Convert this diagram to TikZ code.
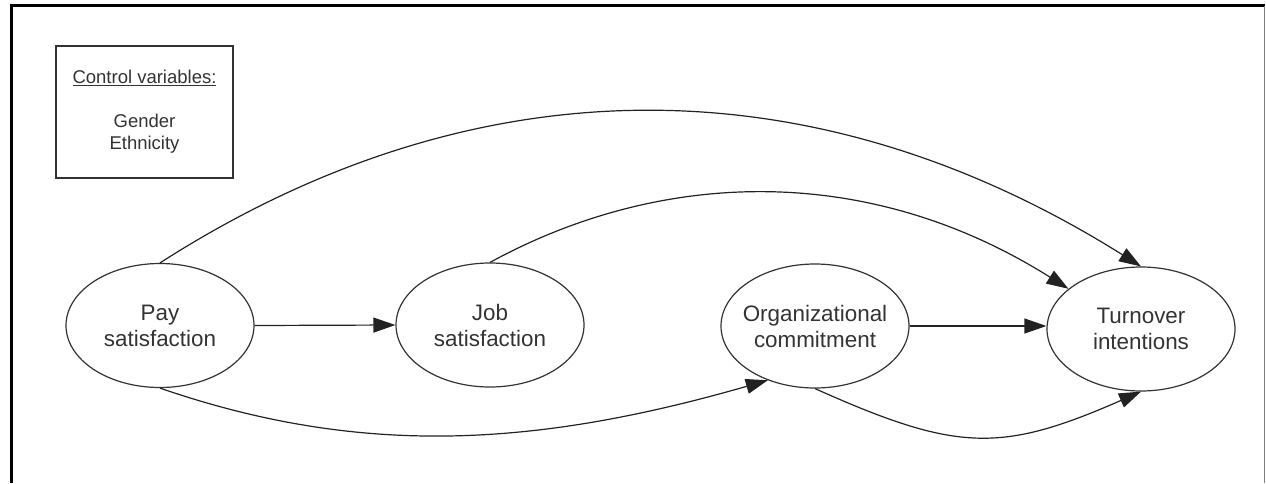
\documentclass[tikz,border=0pt]{standalone}
\usepackage{fontspec}
\setmainfont{Liberation Sans}
\usetikzlibrary{shapes.geometric,arrows.meta}
\definecolor{ink}{HTML}{333333}
\definecolor{edge}{HTML}{222222}
\begin{document}
\begin{tikzpicture}[x=1pt,y=-1pt,
  var/.style={ellipse, draw=ink, line width=1.2pt, minimum width=188pt, minimum height=124pt, inner sep=0pt},
  vartxt/.style={align=center, text=ink, font=\fontsize{22.4}{26}\selectfont, inner sep=0pt},
  ctltxt/.style={align=center, text=ink, font=\fontsize{18.5}{22}\selectfont, inner sep=0pt},
  conn/.style={draw=edge, line width=1.2pt, -{Triangle[length=22pt,width=15pt]}}]
\useasboundingbox (0,0) rectangle (1266,483);
% frame
\draw[line width=3.5pt] (11.3,483) -- (11.3,5.5) -- (1265,5.5);
\draw[gray, line width=1pt] (1264.8,5.5) -- (1264.8,483);
% control variables box
\node[draw=ink, line width=1.4pt, minimum width=177pt, minimum height=132pt, inner sep=0pt] (ctrl) at (144.5,112) {};
\node[ctltxt] (ctrltitle) at (144.5,78) {\underline{Control variables:}};
\node[ctltxt] (ctrllist) at (144.5,134) {Gender\\Ethnicity};
% variables
\node[var] (pay) at (160,325.5) {};
\node[var] (job) at (490,325) {};
\node[var] (org) at (815,326) {};
\node[var] (turn) at (1141,329) {};
\node[vartxt] (paytxt) at (pay) {Pay\\satisfaction};
\node[vartxt] (jobtxt) at (job) {Job\\satisfaction};
\node[vartxt] (orgtxt) at (org) {Organizational\\commitment};
\node[vartxt] (turntxt) at (turn) {Turnover\\intentions};
% connectors
\draw[conn] (pay.east) -- (job.west);
\draw[conn] (org.east) -- (org.east -| turn.west);
\draw[conn] (pay.north) .. controls +(318,-204) and +(-325,-204) .. (turn.north);
\draw[conn] (job.north) .. controls +(172,-94) and +(-200,-126) .. (turn.151);
\draw[conn] (pay.south) .. controls +(203,70) and +(-230,66) .. (org.229);
\draw[conn] (org.south) .. controls +(141,63) and +(-141,62) .. (turn.south);
\end{tikzpicture}
\end{document}
